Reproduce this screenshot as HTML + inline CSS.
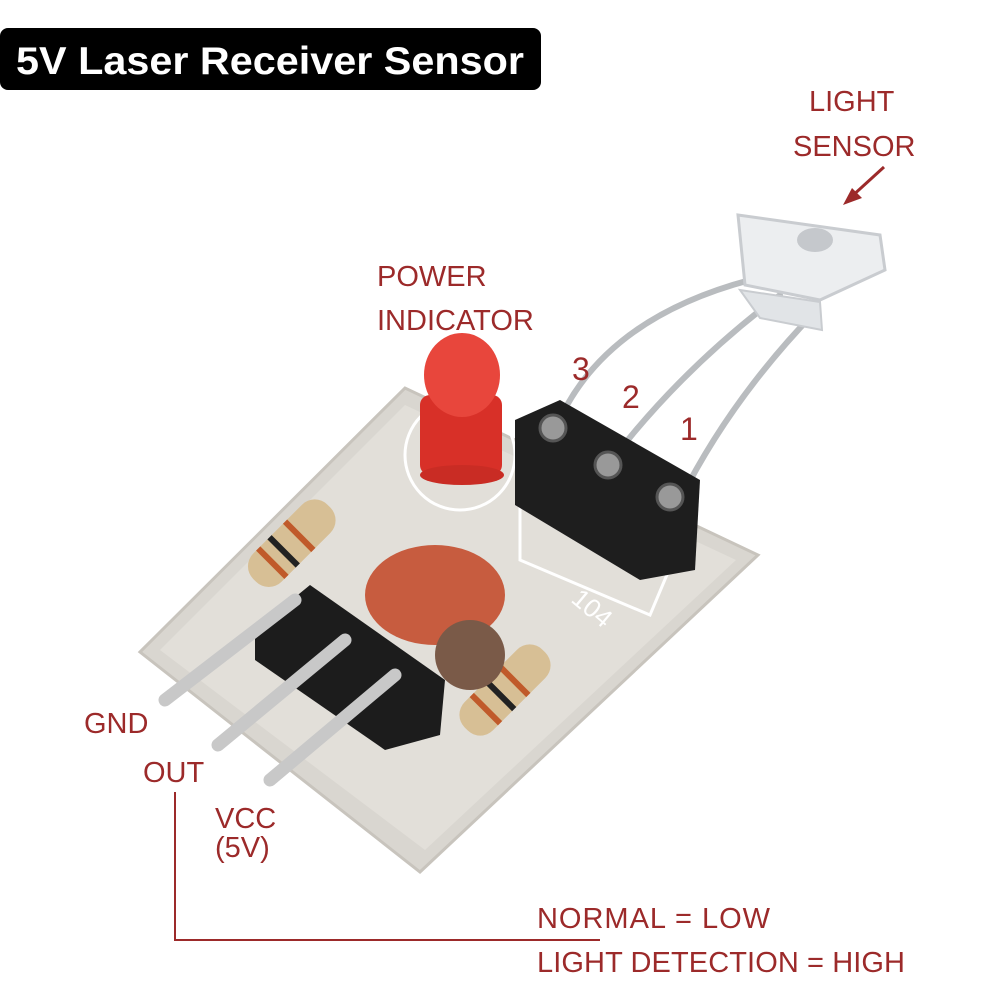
<!DOCTYPE html>
<html><head><meta charset="utf-8"><style>
html,body{margin:0;padding:0;background:#fff;}
svg{display:block}
</style></head><body>
<svg width="1000" height="1000" viewBox="0 0 1000 1000" xmlns="http://www.w3.org/2000/svg">
<rect x="0" y="28" width="541" height="62" rx="8" fill="#000"/>
<text x="16" y="74" font-family="Liberation Sans, sans-serif" font-weight="bold" font-size="39" fill="#fff" textLength="508" lengthAdjust="spacingAndGlyphs">5V Laser Receiver Sensor</text>

<!-- PCB -->
<polygon points="140,652 405,388 758,555 420,872" fill="#d9d6d0" stroke="#c8c4bd" stroke-width="3"/>
<polygon points="160,650 405,405 736,560 425,850" fill="#e2dfd9"/>
<circle cx="460" cy="455" r="55" fill="none" stroke="#fff" stroke-width="3"/>
<polygon points="520,500 600,470 690,520 650,615 520,560" fill="none" stroke="#fff" stroke-width="3"/>
<text x="560" y="612" font-family="Liberation Sans, sans-serif" font-size="26" fill="#fff" transform="rotate(40 580 620)">104</text>

<!-- sensor leads -->
<g stroke="#b9bcbf" stroke-width="6" fill="none" stroke-linecap="round">
<path d="M555,430 Q600,320 750,280"/>
<path d="M608,465 Q680,370 780,295"/>
<path d="M680,500 Q730,400 815,312"/>
</g>
<!-- light sensor -->
<polygon points="738,215 880,235 885,270 820,300 745,285" fill="#eceef0" stroke="#c9ccd0" stroke-width="3"/>
<polygon points="740,290 820,302 822,330 760,318" fill="#e1e4e7" stroke="#c9ccd0" stroke-width="2"/>
<ellipse cx="815" cy="240" rx="18" ry="12" fill="#c5c8cc"/>

<!-- LED -->
<rect x="420" y="395" width="82" height="80" rx="10" fill="#d83028"/>
<ellipse cx="462" cy="375" rx="38" ry="42" fill="#e8463c"/>
<ellipse cx="462" cy="475" rx="42" ry="10" fill="#c92c24"/>

<!-- black female header -->
<polygon points="515,420 560,400 700,480 695,570 640,580 515,505" fill="#1e1e1e"/>
<circle cx="553" cy="428" r="13" fill="#999" stroke="#555" stroke-width="3"/>
<circle cx="608" cy="465" r="13" fill="#999" stroke="#555" stroke-width="3"/>
<circle cx="670" cy="497" r="13" fill="#999" stroke="#555" stroke-width="3"/>

<!-- resistors -->
<g transform="rotate(-45 290 545)"><rect x="240" y="525" width="105" height="40" rx="18" fill="#d7bf95"/><rect x="262" y="525" width="6" height="40" fill="#c05a2a"/><rect x="278" y="525" width="6" height="40" fill="#222"/><rect x="300" y="525" width="6" height="40" fill="#c05a2a"/></g>
<g transform="rotate(-45 505 690)"><rect x="450" y="670" width="110" height="40" rx="18" fill="#d7bf95"/><rect x="475" y="670" width="6" height="40" fill="#c05a2a"/><rect x="495" y="670" width="6" height="40" fill="#222"/><rect x="515" y="670" width="6" height="40" fill="#c05a2a"/></g>

<!-- capacitor -->
<ellipse cx="435" cy="595" rx="70" ry="50" fill="#c75c3f"/>
<circle cx="470" cy="655" r="35" fill="#7a5a48"/>

<!-- male header -->
<polygon points="255,630 310,585 445,680 440,735 385,750 255,660" fill="#1c1c1c"/>
<g stroke="#c8c8c8" stroke-width="13" stroke-linecap="round">
<line x1="165" y1="700" x2="295" y2="600"/>
<line x1="218" y1="745" x2="345" y2="640"/>
<line x1="270" y1="780" x2="395" y2="675"/>
</g>

<!-- labels -->
<g font-family="Liberation Sans, sans-serif" font-size="29" fill="#9c2a2a">
<text x="809" y="111">LIGHT</text>
<text x="793" y="156">SENSOR</text>
<text x="377" y="286">POWER</text>
<text x="377" y="330">INDICATOR</text>
<text x="572" y="380" font-size="32">3</text>
<text x="622" y="408" font-size="32">2</text>
<text x="680" y="440" font-size="32">1</text>
<text x="84" y="733">GND</text>
<text x="143" y="782">OUT</text>
<text x="215" y="828">VCC</text>
<text x="215" y="857">(5V)</text>
<text x="537" y="928" textLength="233">NORMAL = LOW</text>
<text x="537" y="972" textLength="368">LIGHT DETECTION = HIGH</text>
</g>
<line x1="884" y1="167" x2="850" y2="198" stroke="#9c2a2a" stroke-width="3"/>
<polygon points="843,205 852,188 862,198" fill="#9c2a2a"/>
<polyline points="175,792 175,940 600,940" fill="none" stroke="#9c2a2a" stroke-width="2"/>
</svg>
</body></html>
